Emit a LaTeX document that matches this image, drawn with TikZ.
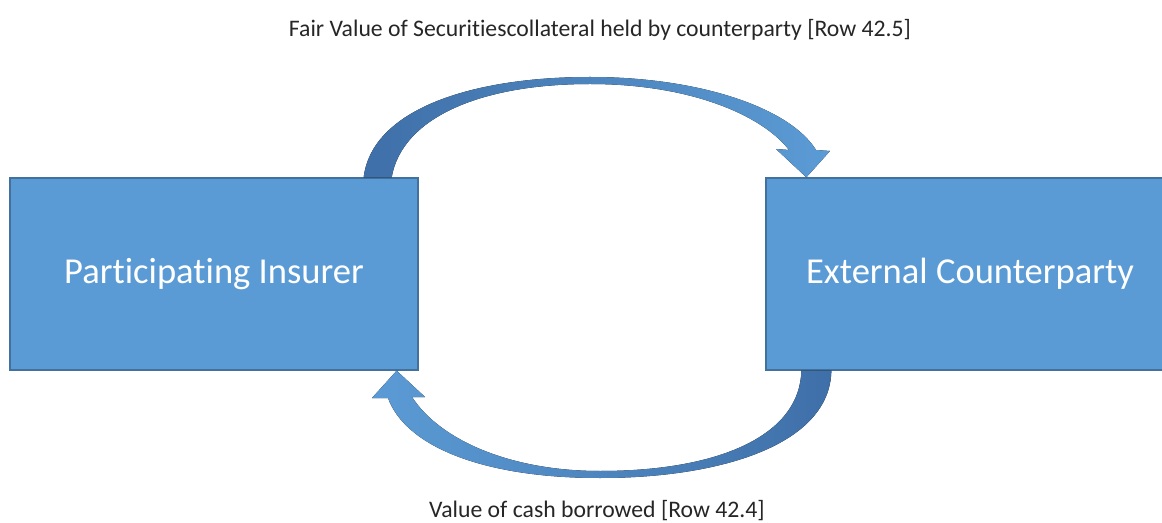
\documentclass[tikz,border=0pt]{standalone}
\usepackage{fontspec}
\setmainfont[Ligatures=NoCommon]{Carlito}
\usepackage{tikz}
\usetikzlibrary{calc}
\definecolor{boxblue}{HTML}{5B9BD5}
\definecolor{boxedge}{HTML}{41719C}
\definecolor{arrowdark}{HTML}{3F6FA8}
\definecolor{labelgray}{HTML}{262626}
\tikzset{
  party/.style={draw=boxedge, line width=0.8pt, fill=boxblue, minimum width=8.16cm, minimum height=3.84cm, text=white, font=\fontsize{20.8}{24}\selectfont},
  flowlabel/.style={text=labelgray, font=\fontsize{13.5}{16}\selectfont},
}

\begin{document}
\begin{tikzpicture}[x=0.02cm, y=-0.02cm]
            \useasboundingbox (0,0) rectangle (1162,523);
            \clip (0,0) rectangle (1162,523);

            % Riquadri
            \node[party] (insurer) at (214,274) {Participating Insurer};
            \node[party] (counter) at (970,274) {External Counterparty};

            % Freccia superiore
            \coordinate (t1) at ($(insurer.north east)+(-55,0)$);
            \coordinate (t3) at ($(insurer.north east)+(-27,0)$);
            \coordinate (t2) at ($(counter.north west)+(41,0)$);
            \fill[left color=arrowdark, right color=boxblue]
                (t1) .. controls (372,110) and (470,77) .. (590,77)
                .. controls (700,77) and (790,108) .. (816,150)
                -- (830,151) -- (t2) -- (776,149) -- (789,150)
                .. controls (762,115) and (690,84) .. (590,84)
                .. controls (480,84) and (402,118) .. (t3) -- cycle;

            % Freccia inferiore
            \coordinate (b1) at ($(counter.south west)+(66,0)$);
            \coordinate (b3) at ($(counter.south west)+(36,0)$);
            \coordinate (b2) at ($(insurer.south east)+(-22,0)$);
            \fill[left color=boxblue, right color=arrowdark]
                (b1) .. controls (830,445) and (720,478) .. (600,478)
                .. controls (480,478) and (405,445) .. (388,398)
                -- (372,398) -- (b2) -- (425,397) -- (412,397)
                .. controls (440,440) and (510,471) .. (600,471)
                .. controls (720,471) and (800,435) .. (b3) -- cycle;

            % Etichette
            \node[flowlabel] (toplabel) at (600,30) {Fair Value of Securitiescollateral held by counterparty [Row 42.5]};
            \node[flowlabel] (botlabel) at (597,511) {Value of cash borrowed [Row 42.4]};
\end{tikzpicture}
\end{document}
